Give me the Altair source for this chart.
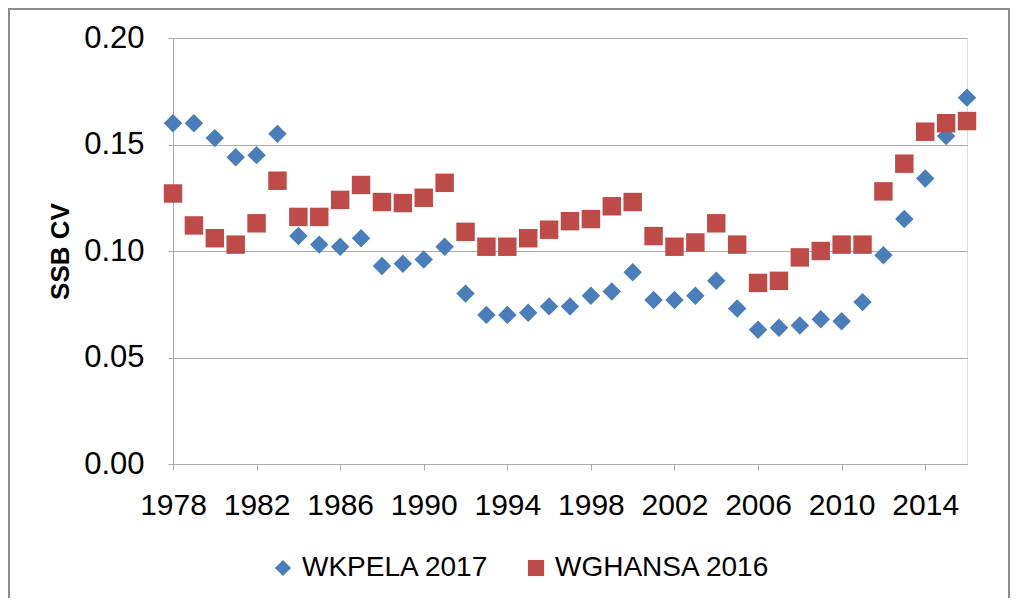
import altair as alt
import pandas as pd

years = list(range(1978, 2017))
wkpela = [0.160, 0.160, 0.153, 0.144, 0.145, 0.155, 0.107, 0.103, 0.102, 0.106,
          0.093, 0.094, 0.096, 0.102, 0.080, 0.070, 0.070, 0.071, 0.074, 0.074,
          0.079, 0.081, 0.090, 0.077, 0.077, 0.079, 0.086, 0.073, 0.063, 0.064,
          0.065, 0.068, 0.067, 0.076, 0.098, 0.115, 0.134, 0.154, 0.172]
wghansa = [0.127, 0.112, 0.106, 0.103, 0.113, 0.133, 0.116, 0.116, 0.124, 0.131,
           0.123, 0.1225, 0.125, 0.132, 0.109, 0.102, 0.102, 0.106, 0.110, 0.114,
           0.115, 0.121, 0.123, 0.107, 0.102, 0.104, 0.113, 0.103, 0.085, 0.086,
           0.097, 0.100, 0.103, 0.103, 0.128, 0.141, 0.156, 0.160, 0.161]
series_names = ["WKPELA 2017", "WGHANSA 2016"]
x_ticks = list(range(1978, 2015, 4))
y_ticks = [0.00, 0.05, 0.10, 0.15, 0.20]

df = pd.DataFrame({
    "year": years * 2,
    "value": wkpela + wghansa,
    "series": [series_names[0]] * len(years) + [series_names[1]] * len(years),
    "order": [0] * len(years) + [1] * len(years),
})

FONT = "Liberation Sans"
GRID = "#ABABAB"

points = alt.Chart(df).mark_point(filled=True, opacity=1, size=340).encode(
    x=alt.X("year:Q", scale=alt.Scale(domain=[1978, 2016], nice=False, zero=False),
            axis=alt.Axis(values=x_ticks, format="d", title=None, grid=False,
                          labelFontSize=30, labelFont=FONT, labelColor="#000000",
                          tickSize=6, tickColor=GRID, domainColor=GRID,
                          labelPadding=20, labelFlush=False)),
    y=alt.Y("value:Q", scale=alt.Scale(domain=[0, 0.2], nice=False),
            axis=alt.Axis(values=y_ticks, format=".2f", title="SSB CV",
                          labelFontSize=31, labelFont=FONT, labelColor="#000000",
                          titleFontSize=26, titleFont=FONT, titleFontWeight="bold",
                          titleColor="#000000", titlePadding=10,
                          tickSize=5, tickColor=GRID, domainColor=GRID,
                          gridColor=GRID, labelPadding=24)),
    color=alt.Color("series:N", scale=alt.Scale(domain=series_names,
                                                range=["#4A7EBB", "#BE4B48"]),
                    legend=alt.Legend(title=None, orient="none", direction="horizontal",
                                      legendX=96, legendY=516, labelFontSize=28,
                                      labelFont=FONT, labelColor="#000000",
                                      labelLimit=0,
                                      symbolSize=260, labelOffset=5, columnPadding=33,
                                      symbolStrokeWidth=0)),
    shape=alt.Shape("series:N", scale=alt.Scale(domain=series_names,
                                                range=["diamond", "square"]),
                    legend=None),
    order=alt.Order("order:Q"),
)

border = alt.Chart(df).mark_rect(fill=None, stroke="#8C8C8C", strokeWidth=1.5).encode(
    x=alt.value(-164), x2=alt.value(836), y=alt.value(-29), y2=alt.value(561)
)

chart = alt.layer(border, points).properties(
    width=794, height=426,
    autosize=alt.AutoSizeParams(type="none"),
    padding={"left": 165, "top": 30, "right": 43, "bottom": 134},
).configure_view(stroke=None).configure(background="white")

chart.save("out.html", embed_options={"renderer": "svg", "actions": False})
